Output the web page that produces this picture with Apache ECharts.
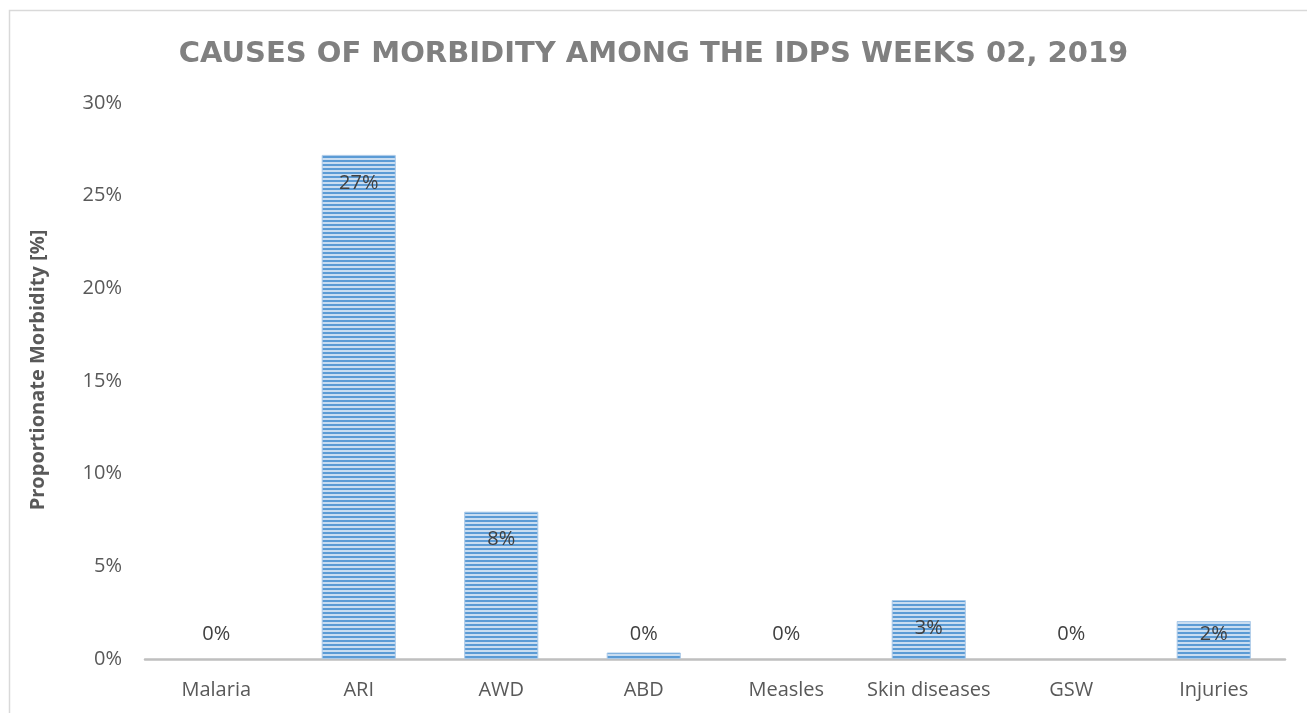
<!DOCTYPE html>
<html>
<head>
<meta charset="utf-8">
<script src="https://cdn.jsdelivr.net/npm/echarts@6/dist/echarts.min.js"></script>
<style>
  html, body { margin: 0; padding: 0; background: #fff; }
  #chart { width: 1307px; height: 713px; }
</style>
</head>
<body>
<div id="chart"></div>
<script>
// data
var categories = ['Malaria', 'ARI', 'AWD', 'ABD', 'Measles', 'Skin diseases', 'GSW', 'Injuries'];
var morbidity = [0, 27.2, 7.95, 0.35, 0, 3.18, 0, 2.05];
var yTicks = [0, 5, 10, 15, 20, 25, 30];

// horizontal stripe fill, like the excel pattern
var tile = document.createElement('canvas');
tile.width = 4;
tile.height = 4;
var tctx = tile.getContext('2d');
tctx.fillStyle = '#5b9bd5';
tctx.fillRect(0, 0, 4, 2);
tctx.fillStyle = '#c9ddf1';
tctx.fillRect(0, 2, 4, 2);

function labelFor(v) {
    // excel keeps the label inside the bar end, pushed out when the bar is too short
    if (v > 2.5) return { position: 'insideTop', distance: 18 };
    if (v > 1) return { position: 'insideTop', distance: 3 };
    return { position: 'top', distance: Math.max(0, 15 - v * 18.5) };
}

var barData = morbidity.map(function (v) {
    return {
        value: v,
        label: labelFor(v),
        itemStyle: { borderWidth: v > 0 ? 1 : 0 }
    };
});

var myChart = echarts.init(document.getElementById('chart'));
myChart.setOption({
    animation: false,
    title: {
        text: 'CAUSES OF MORBIDITY AMONG THE IDPS WEEKS 02, 2019',
        left: 'center',
        top: 35,
        textStyle: {
            fontFamily: '"DejaVu Sans"',
            fontWeight: 'bold',
            fontSize: 29,
            color: '#808080'
        }
    },
    graphic: [{
        type: 'rect',
        shape: { x: 9.5, y: 10.5, width: 1320, height: 720 },
        style: { fill: 'none', stroke: '#d9d9d9', lineWidth: 1.5 },
        silent: true
    }],
    grid: { left: 145, right: 22, top: 103, bottom: 54 },
    xAxis: {
        type: 'category',
        data: categories,
        axisLine: { lineStyle: { color: '#bfbfbf', width: 2.5 } },
        axisTick: { show: false },
        axisLabel: {
            interval: 0,
            fontFamily: '"Open Sans"',
            fontSize: 20,
            color: '#595959',
            margin: 21
        }
    },
    yAxis: {
        type: 'value',
        min: 0,
        max: yTicks[yTicks.length - 1],
        interval: 5,
        name: 'Proportionate Morbidity [%]',
        nameLocation: 'middle',
        nameGap: 97,
        nameTextStyle: {
            fontFamily: '"Open Sans"',
            fontWeight: 'bold',
            fontSize: 20,
            color: '#595959',
            padding: [0, 0, 0, 22]
        },
        splitLine: { show: false },
        axisLine: { show: false },
        axisTick: { show: false },
        axisLabel: {
            fontFamily: '"Open Sans"',
            fontSize: 20,
            color: '#595959',
            margin: 23,
            formatter: '{value}%'
        }
    },
    series: [{
        type: 'bar',
        data: barData,
        barWidth: '52%',
        itemStyle: {
            color: { image: tile, repeat: 'repeat' },
            borderColor: '#a9c9e8'
        },
        label: {
            show: true,
            fontFamily: '"Open Sans"',
            fontSize: 20,
            color: '#404040',
            formatter: function (p) { return Math.round(p.value) + '%'; }
        }
    }]
});
</script>
</body>
</html>
